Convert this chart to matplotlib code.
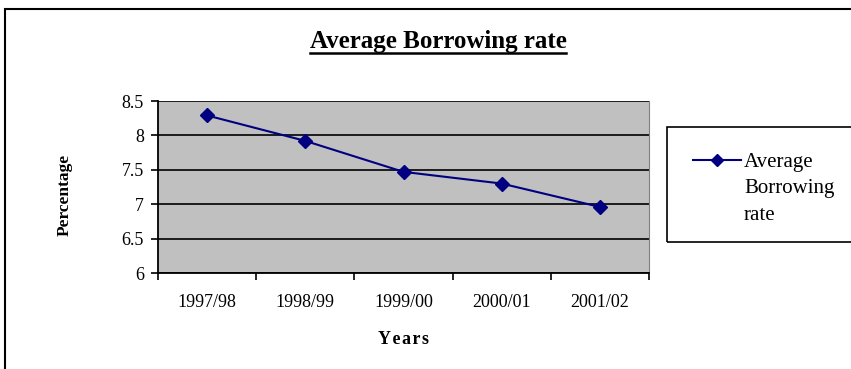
import matplotlib
matplotlib.use("Agg")
import matplotlib.pyplot as plt
from matplotlib.lines import Line2D
from matplotlib.patches import Rectangle

years = ["1997/98", "1998/99", "1999/00", "2000/01", "2001/02"]
rate = [8.29, 7.92, 7.47, 7.30, 6.96]
yticks = [6, 6.5, 7, 7.5, 8, 8.5]
ytick_labels = ["6", "6.5", "7", "7.5", "8", "8.5"]
series_name = "Average\nBorrowing\nrate"

plt.rcParams["font.family"] = ["Liberation Serif", "DejaVu Serif"]
NAVY = "#000080"

W, H = 851, 369
fig = plt.figure(figsize=(W / 100, H / 100), dpi=100)
ax = fig.add_axes([158 / W, 1 - 273 / H, (649 - 158) / W, (273 - 101) / H])

x = list(range(len(years)))
ax.plot(x, rate, color=NAVY, lw=1.5, marker="D", ms=7.5,
        markerfacecolor=NAVY, markeredgecolor=NAVY)

ax.set_facecolor("#c0c0c0")
ax.set_xlim(-0.5, len(years) - 0.5)
ax.set_ylim(6, 8.5)
ax.set_yticks(yticks)
ax.set_yticklabels(ytick_labels, fontsize=13)
ax.yaxis.grid(True, color="black", lw=1.2)
ax.set_axisbelow(True)

# category labels centred, tick marks on category boundaries
ax.set_xticks(x)
ax.set_xticklabels(years, fontsize=13)
ax.set_xticks([i - 0.5 for i in range(len(years) + 1)], minor=True)
ax.tick_params(axis="x", which="major", length=0, pad=15)
ax.tick_params(axis="x", which="minor", length=5, width=1.2, direction="out")
ax.tick_params(axis="y", length=5, width=1.2, direction="out", pad=5)

for s in ["left", "bottom"]:
    ax.spines[s].set_linewidth(1.3)
ax.spines["top"].set_visible(False)
ax.spines["right"].set_color("#808080")

# "Years" is slightly letter-spaced in the original
ax.set_xlabel("\u200a".join("Years"), fontsize=13, fontweight="bold")
ax.xaxis.set_label_coords((403 - 158) / 491, (273 - 339) / 172)
ax.xaxis.label.set_va("center")
ax.set_ylabel("Percentage", fontsize=12.5, fontweight="bold")
ax.yaxis.set_label_coords((65 - 158) / 491, (273 - 195) / 172)
ax.yaxis.label.set_va("center")

# title with underline
title = fig.text(438 / W, 1 - 48 / H, "Average Borrowing rate", ha="center",
                 va="baseline", fontsize=18, fontweight="bold")
fig.canvas.draw()
bb = title.get_window_extent().transformed(fig.transFigure.inverted())
fig.add_artist(Line2D([bb.x0, bb.x1], [1 - 52.5 / H, 1 - 52.5 / H],
                      transform=fig.transFigure, color="black", lw=1.8))

# legend box, drawn by hand so the key sits beside the first text line
fig.add_artist(Rectangle((667 / W, 1 - 242 / H), 0.3, (242 - 127) / H,
                         transform=fig.transFigure, fill=False,
                         edgecolor="black", lw=1.2))
fig.add_artist(Line2D([693 / W, 741 / W], [1 - 160 / H, 1 - 160 / H],
                      transform=fig.transFigure, color=NAVY, lw=1.5))
fig.add_artist(Line2D([717 / W], [1 - 160 / H], transform=fig.transFigure,
                      marker="D", ms=6.5, color=NAVY, lw=0))
fig.text(744 / W, 1 - 153 / H, series_name, ha="left", va="top",
         fontsize=15, linespacing=1.52)

# outer chart border
fig.add_artist(Rectangle((5 / W, -0.1), 1.0, 1.1 - 9 / H,
                         transform=fig.transFigure, fill=False,
                         edgecolor="black", lw=1.5))

fig.savefig("out.png", dpi=100)
